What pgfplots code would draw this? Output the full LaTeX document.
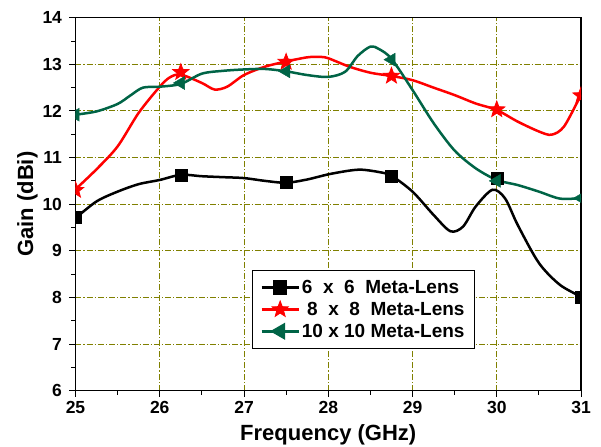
\documentclass[border=0pt]{standalone}
\usepackage{fontspec}
\setmainfont{Liberation Sans}
\usepackage{pgfplots}
\pgfplotsset{compat=1.18}
\definecolor{dgreen}{RGB}{0,100,70}
\definecolor{gridol}{RGB}{128,128,0}
\pgfdeclareplotmark{fstar}{%
  \pgfpathmoveto{\pgfpointpolar{90}{\pgfplotmarksize}}%
  \pgfpathlineto{\pgfpointpolar{126}{0.42\pgfplotmarksize}}%
  \pgfpathlineto{\pgfpointpolar{162}{\pgfplotmarksize}}%
  \pgfpathlineto{\pgfpointpolar{198}{0.42\pgfplotmarksize}}%
  \pgfpathlineto{\pgfpointpolar{234}{\pgfplotmarksize}}%
  \pgfpathlineto{\pgfpointpolar{270}{0.42\pgfplotmarksize}}%
  \pgfpathlineto{\pgfpointpolar{306}{\pgfplotmarksize}}%
  \pgfpathlineto{\pgfpointpolar{342}{0.42\pgfplotmarksize}}%
  \pgfpathlineto{\pgfpointpolar{18}{\pgfplotmarksize}}%
  \pgfpathlineto{\pgfpointpolar{54}{0.42\pgfplotmarksize}}%
  \pgfpathclose
  \pgfusepathqfillstroke}
\begin{document}
\begin{tikzpicture}
\begin{axis}[
  scale only axis, width=505.5pt, height=373pt,
  at={(0,0)}, anchor=south west,
  xmin=25, xmax=31, ymin=6, ymax=14,
  xtick={25,...,31}, ytick={6,...,14},
  minor x tick num=1, minor y tick num=1,
  tick pos=left, tick align=outside,
  major tick length=6pt, minor tick length=4pt,
  every tick/.style={black, line width=1pt},
  axis line style={line width=1.2pt},
  grid=major,
  major grid style={gridol, line width=1pt, dash pattern=on 6pt off 2pt on 1.2pt off 2pt},
  /pgf/number format/assume math mode=true,
  xticklabel={\mbox{\bfseries\fontsize{17.5}{18}\selectfont\pgfmathprintnumber{\tick}}},
  yticklabel={\mbox{\bfseries\fontsize{17.5}{18}\selectfont\pgfmathprintnumber{\tick}}},
  xticklabel style={yshift=-1pt},
  yticklabel style={xshift=-4pt},
  xlabel={\bfseries Frequency (GHz)},
  ylabel={\bfseries Gain (dBi)},
  label style={font=\bfseries\fontsize{22}{24}\selectfont},
  xlabel style={yshift=-4pt},
  ylabel style={yshift=-2pt},
  clip marker paths=true,
  legend cell align=left,
  legend style={at={(0.349,0.324)}, anchor=north west, draw=black, line width=1pt,
     font=\bfseries\fontsize{19}{21}\selectfont, inner xsep=8pt, inner ysep=8pt,
     row sep=3pt},
  legend image code/.code={\draw[#1] (0pt,0pt) -- (37pt,0pt); \draw[#1, solid] plot coordinates {(18.5pt,0pt)};},
]
% 6x6 curve
\addplot[black, line width=2.5pt, smooth, forget plot] coordinates {
(25,9.70) (25.25,10.06) (25.5,10.27) (25.75,10.43) (26,10.52) (26.25,10.63)
(26.5,10.60) (26.75,10.58) (27,10.56) (27.25,10.50) (27.5,10.46) (27.75,10.53)
(28,10.64) (28.25,10.72) (28.4,10.74) (28.6,10.69) (28.75,10.61) (29,10.27)
(29.25,9.77) (29.45,9.42) (29.6,9.52) (29.75,9.95) (29.95,10.31) (30.1,10.12)
(30.25,9.55) (30.5,8.74) (30.75,8.27) (31,8.02)};
% 8x8 curve
\addplot[red, line width=2.5pt, smooth, forget plot] coordinates {
(25,10.32) (25.25,10.75) (25.5,11.24) (25.75,11.96) (26,12.52) (26.12,12.72)
(26.25,12.78) (26.5,12.60) (26.65,12.46) (26.8,12.52) (27,12.77) (27.25,12.95)
(27.5,13.06) (27.75,13.15) (27.9,13.16) (28,13.13) (28.25,12.95) (28.5,12.82)
(28.75,12.75) (29,12.66) (29.25,12.50) (29.5,12.34) (29.75,12.16) (30,12.02)
(30.25,11.77) (30.5,11.56) (30.65,11.49) (30.8,11.67) (31,12.35)};
% 10x10 curve
\addplot[dgreen, line width=2.5pt, smooth, forget plot] coordinates {
(25,11.92) (25.25,11.99) (25.5,12.15) (25.65,12.33) (25.8,12.50) (26,12.52)
(26.25,12.58) (26.5,12.80) (26.75,12.86) (27,12.89) (27.25,12.90) (27.5,12.85)
(27.75,12.77) (28,12.73) (28.2,12.84) (28.35,13.18) (28.5,13.38) (28.6,13.33)
(28.75,13.12) (29,12.45) (29.25,11.74) (29.5,11.15) (29.75,10.77)
(30,10.52) (30.25,10.41) (30.5,10.27) (30.75,10.12) (31,10.13)};
% markers
\addplot[only marks, mark=square*, mark size=6pt, black, forget plot] coordinates {
(25,9.72) (26.25,10.63) (27.5,10.47) (28.75,10.6) (30,10.55) (31,8.0)};
\addplot[only marks, mark=fstar, mark size=8.5pt, red, mark options={line width=0.8pt}, forget plot] coordinates {
(25,10.3) (26.25,12.83) (27.5,13.05) (28.75,12.75) (30,12.03) (31,12.33)};
\addplot[only marks, mark=triangle*, mark size=7.5pt, dgreen, mark options={rotate=90}, forget plot] coordinates {
(25,11.92) (26.25,12.6) (27.5,12.85) (28.75,13.1) (30,10.5) (31,10.13)};
\addlegendimage{black, line width=2.5pt, mark=square*, mark size=6pt}
\addlegendentry{6\ \ x\ \ 6\ \ Meta-Lens}
\addlegendimage{red, line width=2.5pt, mark=fstar, mark size=8.5pt, mark options={line width=0.8pt}}
\addlegendentry{\ 8\ \ x\ \ 8\ \ Meta-Lens}
\addlegendimage{dgreen, line width=2.5pt, mark=triangle*, mark size=7.5pt, mark options={rotate=90}}
\addlegendentry{10 x 10 Meta-Lens}
\end{axis}
\pgfresetboundingbox
\path (-75.5pt,-56pt) rectangle (525.5pt,390.7pt);
\end{tikzpicture}
\end{document}
